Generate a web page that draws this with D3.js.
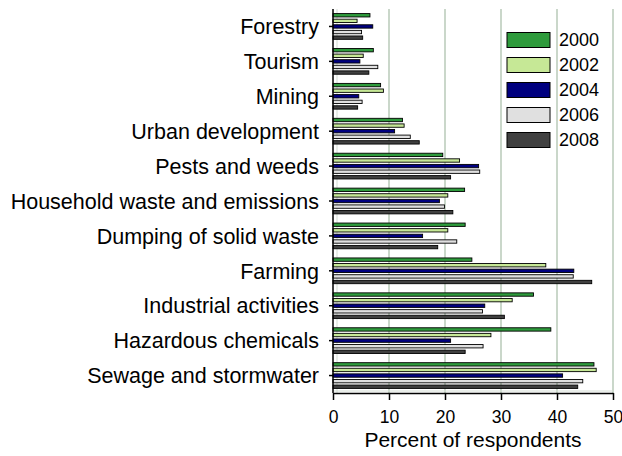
<!DOCTYPE html>
<html>
<head>
<meta charset="utf-8">
<script src="https://cdn.jsdelivr.net/npm/d3@7"></script>
<style>
  body { margin: 0; background: #fff; }
  text { font-family: "Liberation Sans", Arial, sans-serif; fill: #000; }
</style>
</head>
<body>
<div id="chart"></div>
<script>
// categories top to bottom
var categories = [
  "Forestry",
  "Tourism",
  "Mining",
  "Urban development",
  "Pests and weeds",
  "Household waste and emissions",
  "Dumping of solid waste",
  "Farming",
  "Industrial activities",
  "Hazardous chemicals",
  "Sewage and stormwater"
];
var years = ["2000", "2002", "2004", "2006", "2008"];

// percent of respondents, one array per year (same order as categories)
var v2000 = [6.6, 7.2, 8.5, 12.4, 19.6, 23.5, 23.6, 24.8, 35.8, 38.9, 46.6];
var v2002 = [4.3, 5.4, 9.0, 12.7, 22.6, 20.5, 20.5, 38.0, 32.0, 28.2, 47.0];
var v2004 = [7.1, 4.8, 4.6, 11.0, 26.0, 19.0, 16.0, 43.0, 27.1, 21.0, 41.0];
var v2006 = [5.1, 8.0, 5.2, 13.8, 26.2, 19.9, 22.1, 42.9, 26.7, 26.8, 44.6];
var v2008 = [5.3, 6.4, 4.4, 15.4, 21.0, 21.4, 18.7, 46.2, 30.6, 23.6, 43.7];
var xTicks = [0, 10, 20, 30, 40, 50];

var series = [v2000, v2002, v2004, v2006, v2008];
var colors = ["#2e9b3c", "#c6e896", "#00007f", "#e0e0e0", "#404040"];

var width = 622;
var height = 456;
// plot box (note: "top" is reserved on window, so use other names)
var pLeft = 333, pRight = 613, pTop = 9, pBottom = 393;

var svg = d3.select("#chart")
  .append("svg")
  .attr("width", width)
  .attr("height", height);

var x = d3.scaleLinear().domain([0, 50]).range([pLeft, pRight]);
var y = d3.scaleBand().domain(categories).range([pTop, pBottom]);
var yy = d3.scaleBand().domain(years).range([0, y.bandwidth()])
  .paddingInner(0.4).paddingOuter(0.82);

// grid
svg.append("g")
  .selectAll("line")
  .data(xTicks.slice(1))
  .enter()
  .append("line")
  .attr("x1", d => x(d))
  .attr("x2", d => x(d))
  .attr("y1", pTop)
  .attr("y2", pBottom)
  .attr("stroke", "#b9cab9")
  .attr("stroke-width", 1.5);

svg.append("line")
  .attr("x1", pLeft + 4).attr("x2", pLeft + 4)
  .attr("y1", pTop).attr("y2", pBottom)
  .attr("stroke", "#d4ddd4");
svg.append("line")
  .attr("x1", pLeft).attr("x2", pRight)
  .attr("y1", pBottom - 2).attr("y2", pBottom - 2)
  .attr("stroke", "#d4ddd4");

// bars
var rows = [];
categories.forEach(function(c, i) {
  years.forEach(function(yr, j) {
    rows.push({ cat: c, year: yr, value: series[j][i], k: j });
  });
});

svg.append("g")
  .selectAll("rect")
  .data(rows)
  .enter()
  .append("rect")
  .attr("x", x(0))
  .attr("y", d => y(d.cat) + yy(d.year))
  .attr("width", d => x(d.value) - x(0))
  .attr("height", yy.bandwidth())
  .attr("fill", d => colors[d.k])
  .attr("stroke", "#000")
  .attr("stroke-width", 0.9);

// y axis
var yAxis = svg.append("g")
  .attr("transform", "translate(" + pLeft + ",0)")
  .call(d3.axisLeft(y).tickSize(4).tickPadding(10));
yAxis.select(".domain").attr("stroke", "#000").attr("stroke-width", 1.5)
  .attr("d", "M0," + pTop + "V" + pBottom);
yAxis.selectAll(".tick line").attr("stroke-width", 1.5);
yAxis.selectAll("text").style("font-size", "21.5px").attr("dy", "0.36em");

// x axis
var xAxis = svg.append("g")
  .attr("transform", "translate(0," + pBottom + ")")
  .call(d3.axisBottom(x).tickValues(xTicks).tickSize(7).tickPadding(11).tickSizeOuter(0));
xAxis.select(".domain").attr("stroke", "#000").attr("stroke-width", 1.5);
xAxis.selectAll(".tick line").attr("stroke-width", 1.5);
xAxis.selectAll("text").style("font-size", "17.5px");

svg.append("text")
  .attr("x", (pLeft + pRight) / 2)
  .attr("y", 447)
  .attr("text-anchor", "middle")
  .style("font-size", "21px")
  .text("Percent of respondents");

// legend
var legend = svg.append("g")
  .selectAll("g")
  .data(years)
  .enter()
  .append("g")
  .attr("transform", (d, i) => "translate(507," + (32.5 + i * 25) + ")");

legend.append("rect")
  .attr("width", 43)
  .attr("height", 15)
  .attr("fill", (d, i) => colors[i])
  .attr("stroke", "#000")
  .attr("stroke-width", 1);

legend.append("text")
  .attr("x", 52)
  .attr("y", 7.5)
  .attr("dy", "0.36em")
  .style("font-size", "18px")
  .text(d => d);
</script>
</body>
</html>
